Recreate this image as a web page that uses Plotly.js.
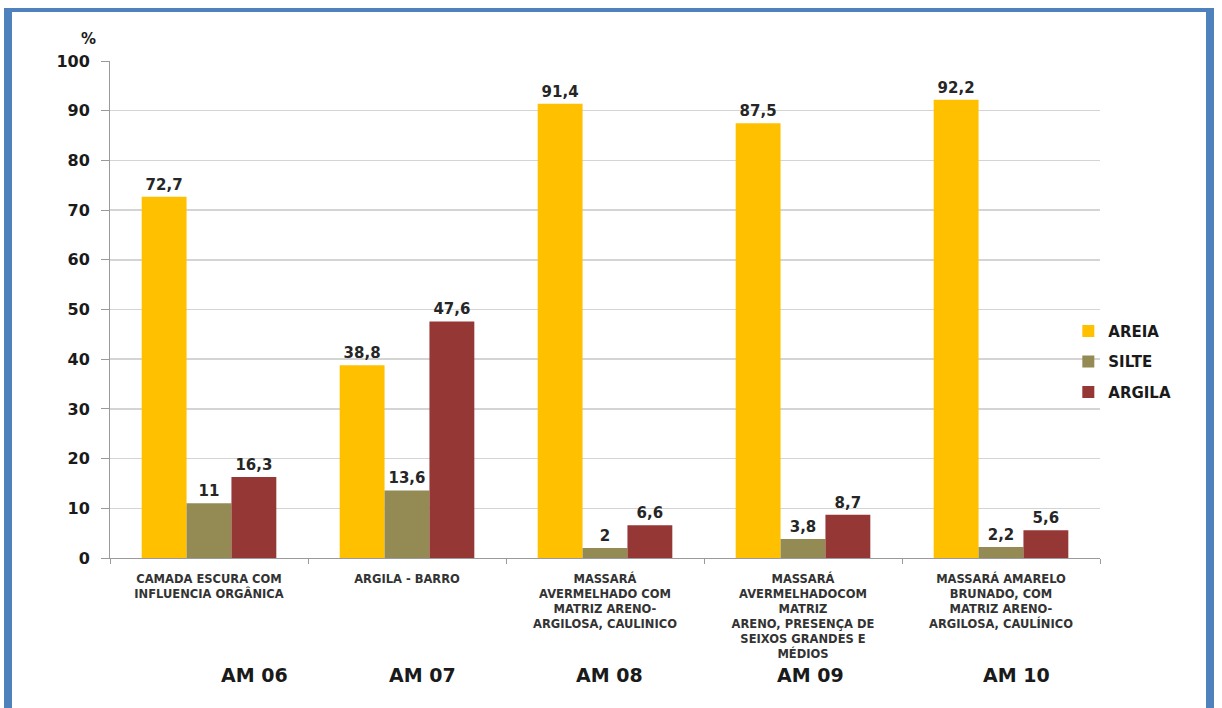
<!DOCTYPE html>
<html>
<head>
<meta charset="utf-8">
<script src="https://cdn.plot.ly/plotly-3.0.1.min.js"></script>
<style>
html,body{margin:0;padding:0;background:#fff;}
#chart{width:1222px;height:708px;}
#frame{position:absolute;left:4px;top:8px;width:1194px;height:760px;border-left:8px solid #4F81BD;border-top:4px solid #4F81BD;border-right:8px solid #4F81BD;pointer-events:none;}
</style>
</head>
<body>
<div id="chart"></div>
<div id="frame"></div>
<script>
const descriptions = [
  "CAMADA ESCURA COM<br>INFLUENCIA ORGÂNICA",
  "ARGILA - BARRO",
  "MASSARÁ<br>AVERMELHADO COM<br>MATRIZ ARENO-<br>ARGILOSA, CAULINICO",
  "MASSARÁ<br>AVERMELHADOCOM<br>MATRIZ<br>ARENO, PRESENÇA DE<br>SEIXOS GRANDES E<br>MÉDIOS",
  "MASSARÁ AMARELO<br>BRUNADO, COM<br>MATRIZ ARENO-<br>ARGILOSA, CAULÍNICO"
];
const samples = ["AM 06", "AM 07", "AM 08", "AM 09", "AM 10"];
const sampleShift = [45, 15, 4, 7, 15];
const areia = [72.7, 38.8, 91.4, 87.5, 92.2];
const silte = [11, 13.6, 2, 3.8, 2.2];
const argila = [16.3, 47.6, 6.6, 8.7, 5.6];
const seriesNames = ["AREIA", "SILTE", "ARGILA"];
const seriesColors = ["#FFC000", "#948A54", "#953735"];
const yTicks = [0,10,20,30,40,50,60,70,80,90,100];

const fmt = v => String(v).replace('.', ',');
const series = [areia, silte, argila];
const traces = series.map((vals, i) => ({
  type: 'bar',
  name: seriesNames[i],
  x: descriptions,
  y: vals,
  text: vals.map(fmt),
  textposition: 'outside',
  textfont: {family: 'DejaVu Sans', size: 15, color: '#262626', weight: 'bold'},
  cliponaxis: false,
  marker: {color: seriesColors[i]},
  legendgroup: 'g' + i,
  hoverinfo: 'none'
}));

const annotations = samples.map((s, i) => ({
  x: descriptions[i], y: 0, xref: 'x', yref: 'y',
  text: s, showarrow: false, xshift: sampleShift[i], yshift: -117,
  yanchor: 'middle',
  font: {family: 'DejaVu Sans', size: 19, color: '#1a1a1a', weight: 'bold'}
}));
annotations.push({
  x: 0, y: 1, xref: 'paper', yref: 'paper', text: '%', showarrow: false,
  xshift: -22, yshift: 22, xanchor: 'center', yanchor: 'middle',
  font: {family: 'DejaVu Sans', size: 15, color: '#1a1a1a', weight: 'bold'}
});

const layout = {
  width: 1222, height: 708,
  margin: {l: 110, r: 122, t: 61, b: 150},
  paper_bgcolor: '#fff', plot_bgcolor: '#fff',
  barmode: 'group', bargap: 0.32, bargroupgap: 0,
  showlegend: true,
  legend: {x: 0.968, y: 0.395, xanchor: 'left', yanchor: 'middle',
    bgcolor: 'rgba(0,0,0,0)', tracegroupgap: 8,
    font: {family: 'DejaVu Sans', size: 15, color: '#1a1a1a', weight: 'bold'}},
  xaxis: {
    type: 'category', tickson: 'boundaries', ticks: 'outside', ticklen: 5,
    tickcolor: '#9a9a9a', showline: true, linecolor: '#9a9a9a', linewidth: 1,
    showgrid: false, tickangle: 0, ticklabelstandoff: 10,
    tickfont: {family: 'DejaVu Sans', size: 11.5, color: '#333', weight: 'bold'}
  },
  yaxis: {
    range: [0, 100], tickvals: yTicks, ticks: 'outside', ticklen: 8,
    tickcolor: '#9a9a9a', showline: true, linecolor: '#9a9a9a', linewidth: 1,
    gridcolor: '#d4d4d4', gridwidth: 1.5, zeroline: false, ticklabelstandoff: 8,
    tickfont: {family: 'DejaVu Sans', size: 16, color: '#1a1a1a', weight: 'bold'}
  },
  annotations: annotations
};

Plotly.newPlot('chart', traces, layout, {displayModeBar: false, staticPlot: true});
</script>
</body>
</html>
